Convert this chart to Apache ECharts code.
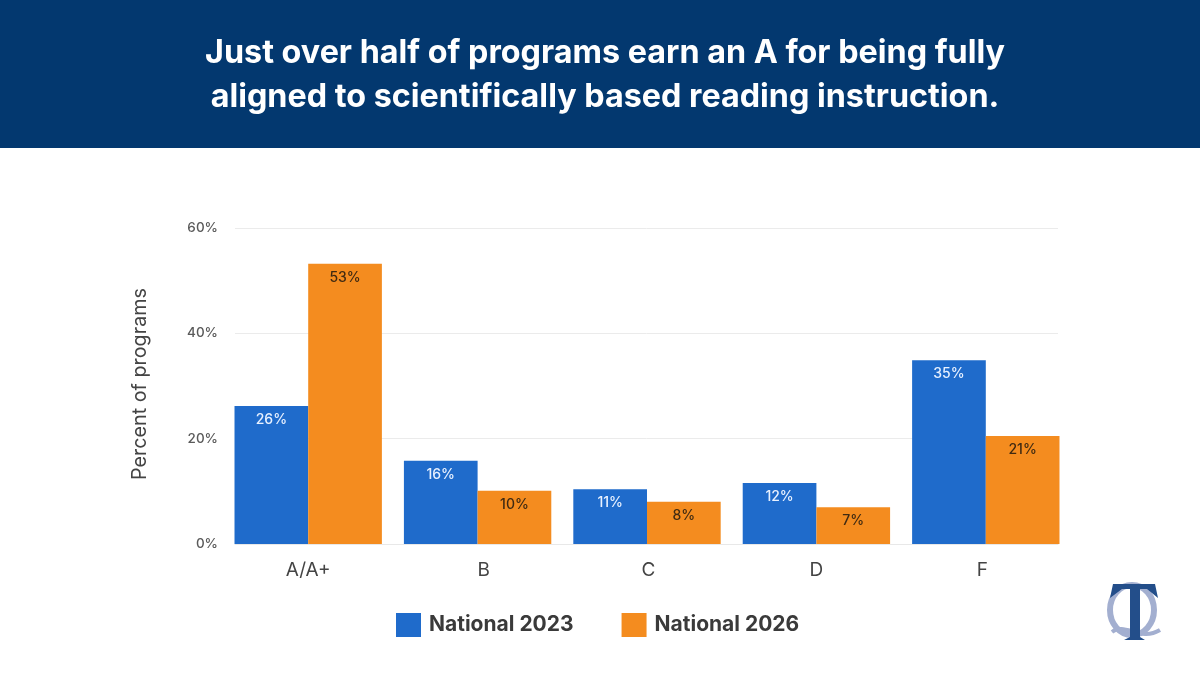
<!DOCTYPE html>
<html><head><meta charset="utf-8">
<script src="https://cdn.jsdelivr.net/npm/echarts@6/dist/echarts.min.js"></script>
<style>html,body{margin:0;padding:0;background:#fff}#c{width:1200px;height:675px}</style></head>
<body><div id="c"></div>
<script>
const categories = ['A/A+','B','C','D','F'];
const values2023 = [26.2,15.8,10.4,11.6,34.9];
const values2026 = [53.2,10.1,8,7,20.5];
const labels2023 = ['26%','16%','11%','12%','35%'];
const labels2026 = ['53%','10%','8%','7%','21%'];
const yTicks = [0,20,40,60];
const titleText = 'Just over half of programs earn an A for being fully\naligned to scientifically based reading instruction.';
const F = 'Inter, "Noto Sans", sans-serif';
const chart = echarts.init(document.getElementById('c'), null, {renderer:'canvas'});
function lab(arr,color){return {show:true,position:'insideTop',distance:7,fontFamily:F,fontSize:14,fontWeight:500,color:color,
  formatter:p=>arr[p.dataIndex]};}
const catStyle = {fontFamily:F,fontSize:19,color:'#444'};
chart.setOption({
  animation:false,
  backgroundColor:'#fff',
  graphic:[
    {type:'rect',z:0,shape:{x:0,y:0,width:1200,height:148},style:{fill:'#03386F'}},
    {type:'ellipse',z:5,shape:{cx:1132,cy:610,rx:22,ry:25},style:{fill:'none',stroke:'#A3AFD0',lineWidth:6}},
    {type:'bezierCurve',z:6,shape:{x1:1112,y1:632,cpx1:1125,cpy1:622,cpx2:1140,cpy2:642,x2:1160,y2:630},style:{fill:'none',stroke:'#A3AFD0',lineWidth:4}},
    {type:'polygon',z:7,shape:{points:[[1113,584],[1155,584],[1158,598],[1147,589],[1140,589],[1140,637],[1145,640],[1124,640],[1130,637],[1130,589],[1122,589],[1110,598]]},style:{fill:'#234E8A'}}
  ],
  title:{text:titleText,left:600,top:26,textAlign:'center',
    textStyle:{color:'#fff',fontFamily:F,fontWeight:700,fontSize:32.3,lineHeight:44}},
  legend:{left:391,top:608,itemWidth:25,itemHeight:24,itemGap:48,icon:'rect',
    data:['National 2023','National 2026'],
    textStyle:{fontFamily:F,fontWeight:700,fontSize:21,color:'#3A3A3A',padding:[0,0,0,3]}},
  grid:[
    {left:223.5,width:847,top:228,height:316},
    {left:235,width:823,top:228,height:316}
  ],
  xAxis:[
    {type:'category',gridIndex:0,data:categories,axisLine:{show:false},axisTick:{show:false},
      axisLabel:{margin:17,...catStyle,
        formatter:v=>'{'+({'B':'b','C':'c','F':'f'}[v]||'n')+'|'+v+'}',
        rich:{n:{...catStyle},b:{...catStyle,padding:[0,0,0,12]},c:{...catStyle,padding:[0,0,0,3]},f:{...catStyle,padding:[0,7,0,0]}}}},
    {type:'category',gridIndex:1,data:categories,axisLine:{show:true,lineStyle:{color:'#E8E8E8'}},axisTick:{show:false},axisLabel:{show:false}}
  ],
  yAxis:[
    {type:'value',gridIndex:0,min:0,max:60,interval:20,show:false},
    {type:'value',gridIndex:1,min:0,max:60,interval:20,
      name:'Percent of programs',nameLocation:'middle',nameGap:85,nameRotate:90,
      nameTextStyle:{fontFamily:F,fontSize:19.8,color:'#444',padding:[0,0,0,4]},
      axisLine:{show:false},axisTick:{show:false},
      splitLine:{lineStyle:{color:'#EBEBEB'}},
      axisLabel:{margin:17,fontFamily:F,fontSize:13.5,fontWeight:500,color:'#5A5A5A',formatter:v=>yTicks.includes(v)?v+'%':''}}
  ],
  series:[
    {name:'National 2023',type:'bar',xAxisIndex:0,yAxisIndex:0,data:values2023,barGap:'0%',barCategoryGap:'13%',
      itemStyle:{color:'#1F6BCB'},label:lab(labels2023,'#E8F1FF'),z:3},
    {name:'National 2026',type:'bar',xAxisIndex:0,yAxisIndex:0,data:values2026,
      itemStyle:{color:'#F48C1F'},label:lab(labels2026,'#3F2A12'),z:3}
  ]
});
</script></body></html>
